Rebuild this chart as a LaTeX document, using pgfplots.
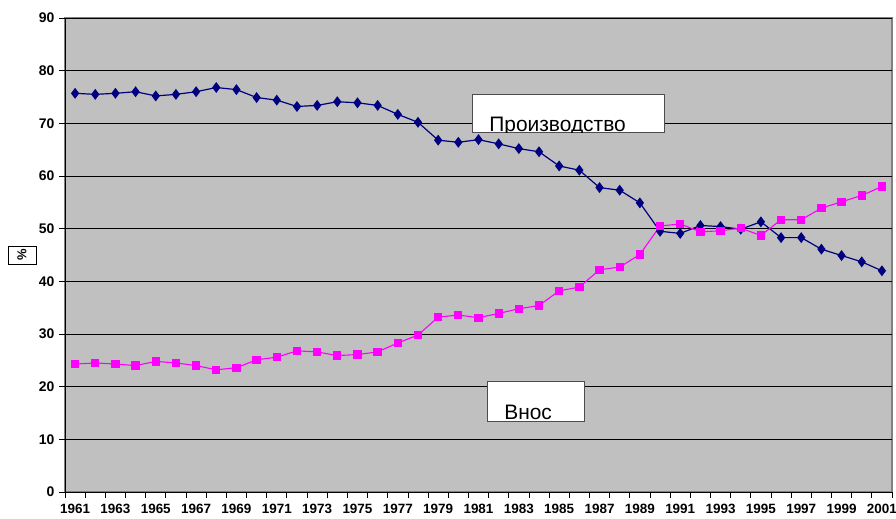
\documentclass[border=0pt]{standalone}
\usepackage{pgfplots}
\pgfplotsset{compat=1.18}
\usepackage{pgfplotstable}
\usepackage{fontspec}
\setmainfont{Liberation Sans}
\definecolor{plotbg}{HTML}{C0C0C0}
\definecolor{prodblue}{HTML}{000080}
\definecolor{inpink}{HTML}{FF00FF}
\pgfplotstableread{
x prod inp
0 75.7 24.3
1 75.5 24.5
2 75.7 24.3
3 76.0 24.0
4 75.2 24.8
5 75.5 24.5
6 76.0 24.0
7 76.8 23.2
8 76.4 23.6
9 74.9 25.1
10 74.4 25.6
11 73.2 26.8
12 73.4 26.6
13 74.1 25.9
14 73.9 26.1
15 73.4 26.6
16 71.7 28.3
17 70.2 29.8
18 66.8 33.2
19 66.4 33.6
20 66.9 33.1
21 66.1 33.9
22 65.2 34.8
23 64.6 35.4
24 61.9 38.2
25 61.1 38.9
26 57.8 42.2
27 57.3 42.7
28 54.9 45.1
29 49.5 50.5
30 49.1 50.9
31 50.6 49.4
32 50.4 49.6
33 49.9 50.1
34 51.3 48.7
35 48.3 51.7
36 48.3 51.7
37 46.1 53.9
38 44.9 55.1
39 43.7 56.3
40 42.0 58.0
}\datatable
\begin{document}
\begin{tikzpicture}
\begin{axis}[
  at={(0,0)}, anchor=south west,
  scale only axis, width=827bp, height=474bp,
  xmin=-0.5, xmax=40.5, ymin=0, ymax=90,
  axis lines*=left,
  axis line style={black, line width=1bp},
  axis background/.style={fill=plotbg, draw=gray, line width=1.5bp},
  ytick={0,10,...,90},
  ymajorgrids, grid style={black, line width=0.8bp},
  xtick={0,2,...,40},
  xticklabels={1961,1963,1965,1967,1969,1971,1973,1975,1977,1979,1981,1983,1985,1987,1989,1991,1993,1995,1997,1999,2001},
  minor xtick={-0.5,0.5,...,40.5},
  major x tick style={draw=none},
  tick style={black, line width=0.8bp},
  tick align=outside, major tick length=6bp, minor tick length=6bp,
  xticklabel style={font=\bfseries\fontsize{13.5}{14}\selectfont, yshift=-3bp},
  yticklabel style={font=\bfseries\fontsize{14}{14}\selectfont, xshift=-1bp},
  /pgf/number format/assume math mode=true,
  clip=false,
]
\addplot[prodblue, line width=1.2bp, mark=diamond*, mark size=4.5bp, mark options={solid, fill=prodblue, draw=prodblue}] table[x=x, y=prod] {\datatable};
\addplot[inpink, line width=1.1bp, mark=square*, mark size=3.6bp, mark options={solid, fill=inpink, draw=inpink}] table[x=x, y=inp] {\datatable};
\coordinate (p1) at (axis cs:19.68,75.4);
\coordinate (p2) at (axis cs:29.2,68.2);
\coordinate (pt) at (axis cs:20.53,68.45);
\coordinate (v1) at (axis cs:20.46,20.94);
\coordinate (v2) at (axis cs:25.24,13.48);
\coordinate (vt) at (axis cs:21.27,13.86);
\end{axis}
\draw[fill=white, draw=black!70, line width=0.8bp] (p1) rectangle (p2);
\begin{scope}
\clip (p1) rectangle (p2);
\node[anchor=base west, inner sep=0, font=\fontsize{21}{21}\selectfont] at (pt) {Производство};
\end{scope}
\draw[fill=white, draw=black!70, line width=0.8bp] (v1) rectangle (v2);
\begin{scope}
\clip (v1) rectangle (v2);
\node[anchor=base west, inner sep=0, font=\fontsize{21}{21}\selectfont] at (vt) {Внос};
\end{scope}
\node[draw=black, fill=white, line width=0.6bp, rotate=90, minimum width=18bp, minimum height=28bp, inner sep=0, font=\bfseries\fontsize{13}{13}\selectfont] at (-43bp,237bp) {\%};
\pgfresetboundingbox
\path (-65bp,-27bp) rectangle (831bp,492bp);
\end{tikzpicture}
\end{document}
